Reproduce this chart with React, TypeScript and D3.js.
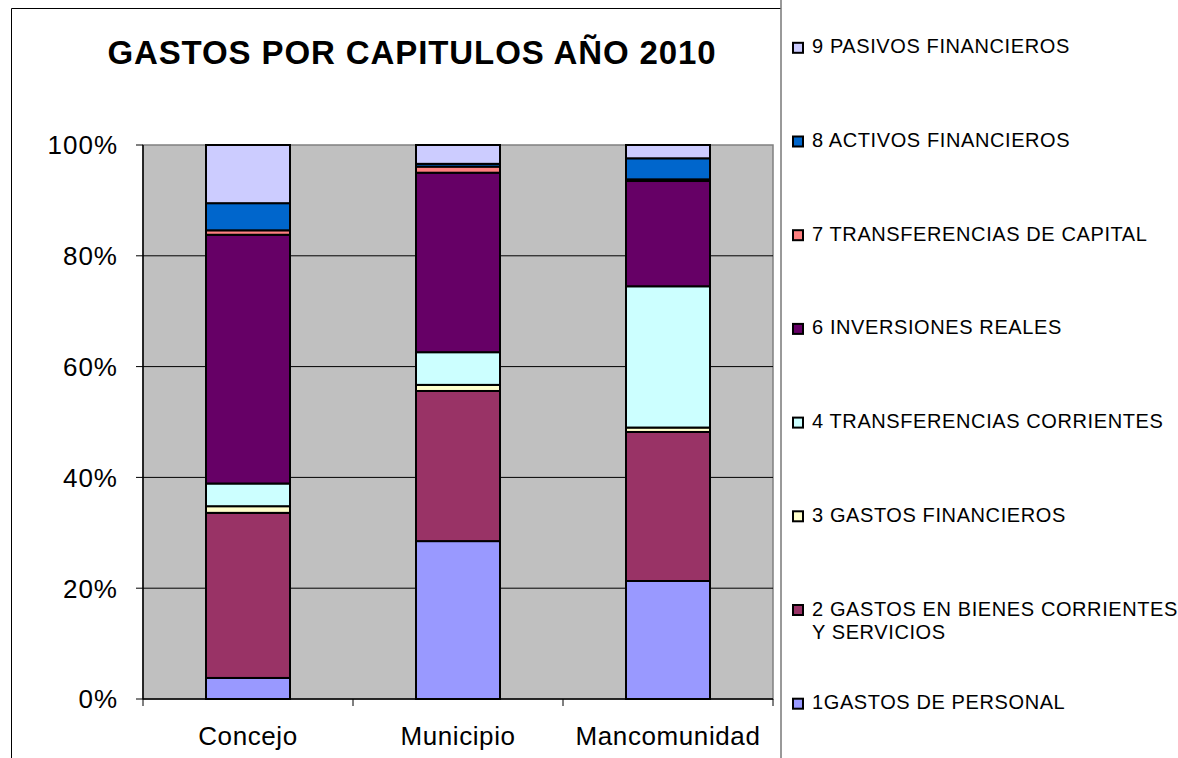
import React from "react";
import * as d3 from "d3";

const categories = ["Concejo", "Municipio", "Mancomunidad"];

const seriesKeys = ["c1", "c2", "c3", "c4", "c6", "c7", "c8", "c9"];
const seriesLabels = [
  ["1GASTOS DE PERSONAL"],
  ["2 GASTOS EN BIENES CORRIENTES", "Y SERVICIOS"],
  ["3 GASTOS FINANCIEROS"],
  ["4 TRANSFERENCIAS CORRIENTES"],
  ["6 INVERSIONES REALES"],
  ["7 TRANSFERENCIAS DE CAPITAL"],
  ["8 ACTIVOS FINANCIEROS"],
  ["9 PASIVOS FINANCIEROS"],
];
const seriesColors = ["#9999FF", "#993366", "#FFFFCC", "#CCFFFF", "#660066", "#FF8080", "#0066CC", "#CCCCFF"];

// percentage values per series, in order of categories
const gastosPersonal = [3.8, 28.5, 21.3];
const bienesServicios = [29.8, 27.1, 26.9];
const gastosFinancieros = [1.2, 1.1, 0.8];
const transfCorrientes = [4.1, 5.9, 25.5];
const inversionesReales = [44.9, 32.4, 19.0];
const transfCapital = [0.8, 1.1, 0.3];
const activosFinancieros = [4.9, 0.5, 3.8];
const pasivosFinancieros = [10.5, 3.4, 2.4];

const seriesValues = [
  gastosPersonal,
  bienesServicios,
  gastosFinancieros,
  transfCorrientes,
  inversionesReales,
  transfCapital,
  activosFinancieros,
  pasivosFinancieros,
];

const yTicks = [0, 0.2, 0.4, 0.6, 0.8, 1];

const title = "GASTOS POR CAPITULOS AÑO 2010";

const FONT = "'Liberation Sans', Arial, Helvetica, sans-serif";

export default function App() {
  const W = 1178;
  const H = 758;
  const plot = { left: 143, right: 773, top: 145, bottom: 699 };

  const table = categories.map((c, i) => {
    const row: any = { cat: c };
    seriesKeys.forEach((k, j) => (row[k] = seriesValues[j][i]));
    return row;
  });

  const stacked = d3.stack<any>().keys(seriesKeys).offset(d3.stackOffsetExpand)(table);

  const x = d3
    .scaleBand<string>()
    .domain(categories)
    .range([plot.left, plot.right])
    .paddingInner(0.6)
    .paddingOuter(0.3);
  const step = (plot.right - plot.left) / categories.length;
  const y = d3.scaleLinear().domain([0, 1]).range([plot.bottom, plot.top]);
  const fmt = d3.format(".0%");

  const legendX = 793;
  const legendTop = 53.3;
  const legendStep = 93.7;
  const legendOrder = d3.range(seriesKeys.length).reverse();

  return (
    <svg
      width={W}
      height={H}
      style={{ position: "absolute", left: 0, top: 0, display: "block", background: "#fff" }}
      fontFamily={FONT}
    >
      <rect x={0} y={0} width={W} height={H} fill="#fff" />
      {/* chart border */}
      <line x1={11.5} y1={8.5} x2={781} y2={8.5} stroke="#000" strokeWidth={1} />
      <line x1={11.5} y1={8.5} x2={11.5} y2={H} stroke="#000" strokeWidth={1} />
      <line x1={781} y1={0} x2={781} y2={H} stroke="#777" strokeWidth={1.5} />

      {/* title */}
      <text x={412} y={64} textAnchor="middle" fontSize={33} fontWeight="bold" letterSpacing={0.9} fill="#000">
        {title}
      </text>

      {/* plot area */}
      <rect
        x={plot.left}
        y={plot.top}
        width={plot.right - plot.left}
        height={plot.bottom - plot.top}
        fill="#C0C0C0"
        stroke="#808080"
        strokeWidth={1.5}
      />
      {yTicks
        .filter((t) => t > 0 && t < 1)
        .map((t) => (
          <line key={t} x1={plot.left} x2={plot.right} y1={y(t)} y2={y(t)} stroke="#000" strokeWidth={1} />
        ))}

      {/* bars */}
      {stacked.map((s, si) =>
        s.map((d, ci) => (
          <rect
            key={`${si}-${ci}`}
            x={x(categories[ci])!}
            y={y(d[1])}
            width={x.bandwidth()}
            height={Math.max(0, y(d[0]) - y(d[1]))}
            fill={seriesColors[si]}
            stroke="#000"
            strokeWidth={2}
          />
        ))
      )}

      {/* y axis */}
      <line x1={plot.left} x2={plot.left} y1={plot.top} y2={plot.bottom} stroke="#000" strokeWidth={1.5} />
      {yTicks.map((t) => (
        <g key={t}>
          <line x1={plot.left - 7} x2={plot.left} y1={y(t)} y2={y(t)} stroke="#000" strokeWidth={1} />
          <text x={118} y={y(t)} dy="0.36em" textAnchor="end" fontSize={26} letterSpacing={1} fill="#000">
            {fmt(t)}
          </text>
        </g>
      ))}

      {/* x axis */}
      <line x1={plot.left} x2={plot.right} y1={plot.bottom} y2={plot.bottom} stroke="#000" strokeWidth={1.5} />
      {d3.range(categories.length + 1).map((i) => (
        <line
          key={i}
          x1={plot.left + i * step}
          x2={plot.left + i * step}
          y1={plot.bottom}
          y2={plot.bottom + 7}
          stroke="#000"
          strokeWidth={1}
        />
      ))}
      {categories.map((c) => (
        <text
          key={c}
          x={x(c)! + x.bandwidth() / 2}
          y={745}
          textAnchor="middle"
          fontSize={26}
          letterSpacing={0.6}
          fill="#000"
        >
          {c}
        </text>
      ))}

      {/* legend */}
      {legendOrder.map((si, i) => {
        const by = legendTop + i * legendStep;
        return (
          <g key={si}>
            <rect x={legendX} y={by - 10.5} width={10} height={10} fill={seriesColors[si]} stroke="#000" strokeWidth={2} />
            {seriesLabels[si].map((line, li) => (
              <text key={li} x={812} y={by + li * 23.5} fontSize={20} letterSpacing={0.6} fill="#000">
                {line}
              </text>
            ))}
          </g>
        );
      })}
    </svg>
  );
}
